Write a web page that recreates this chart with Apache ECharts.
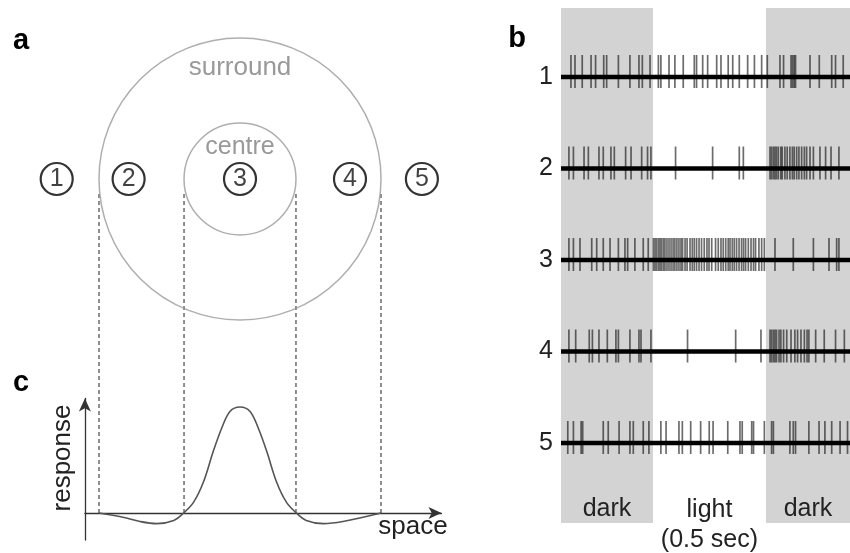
<!DOCTYPE html>
<html>
<head>
<meta charset="utf-8">
<script src="https://cdn.jsdelivr.net/npm/echarts@6/dist/echarts.min.js"></script>
<style>html,body{margin:0;padding:0;background:#fff}#c{width:850px;height:553px}</style>
</head>
<body>
<div id="c"></div>
<script>
// ---------- data ----------
// panel a: receptive field (space units, surround radius = 1)
const surroundR = 1.0;
const centreR = 0.397;
const stimPos = [-1.30, -0.79, 0, 0.78, 1.29];
const stimLabels = ['1', '2', '3', '4', '5'];
// panel c: response profile
const curveX = [-1.0, -0.83, -0.71, -0.59, -0.47, -0.40, -0.33, -0.26, -0.19, -0.13, -0.07, 0, 0.07, 0.13, 0.19, 0.26, 0.33, 0.40, 0.47, 0.59, 0.73, 1.0];
const curveY = [0, -0.04, -0.08, -0.10, -0.07, 0, 0.10, 0.29, 0.58, 0.80, 0.96, 1.0, 0.96, 0.80, 0.58, 0.29, 0.10, 0, -0.07, -0.10, -0.08, 0];
// panel b: spike times (ms)
const tEnd = 1279, lightOn = 407, lightOff = 907;
const rowLabels = ['1', '2', '3', '4', '5'];
const spikes1 = [44,62,94,133,153,189,202,254,305,345,360,394,431,442,478,504,541,590,600,627,649,689,708,740,760,789,826,856,888,913,969,985,1018,1025,1032,1038,1102,1143,1198,1215,1249];
const spikes2 = [35,55,102,121,168,187,221,236,286,310,357,383,398,507,671,789,807,925,932,940,947,954,962,973,979,991,1001,1013,1024,1032,1043,1053,1065,1077,1087,1102,1117,1146,1171,1195,1230];
const spikes3 = [35,55,84,136,158,187,217,254,283,295,327,364,386,409,416,423,431,438,445,453,460,469,478,487,496,504,513,522,531,538,549,558,571,581,590,600,611,622,634,646,655,667,684,696,708,718,729,740,748,758,767,777,788,799,808,817,829,841,852,861,876,888,900,947,1028,1117,1186,1220,1230];
const spikes4 = [35,65,125,139,168,205,243,254,305,345,354,398,560,773,885,925,932,940,947,954,965,973,985,999,1018,1035,1047,1062,1077,1089,1097,1127,1165,1215,1254];
const spikes5 = [30,55,89,96,187,209,257,305,320,364,389,442,465,522,537,574,618,656,673,738,792,802,844,852,900,932,940,1013,1028,1038,1097,1142,1168,1198,1235,1268];
const spikeRows = [spikes1, spikes2, spikes3, spikes4, spikes5];

// ---------- layout ----------
const FONT = '"Liberation Sans", Arial, sans-serif';
const PX = 141, CX = 240, CY = 179;       // panel a/c horizontal scale
const PY = 106, BY = 513;                 // panel c vertical scale / baseline
const aX = [-1.56, 1.56], aY = [-1.2, 1.2];
const dX = [-1.1, 1.429], dY = [-0.255, 1.08];
const dashTop = (BY - 192) / PY;

const hidden = {show: false};
const plainAxis = (min, max, extra) => Object.assign({
  type: 'value', min, max, axisLine: hidden, axisTick: hidden, axisLabel: hidden, splitLine: hidden
}, extra || {});

const series = [];
// rings
series.push({
  type: 'scatter', xAxisIndex: 0, yAxisIndex: 0, silent: true, z: 2,
  data: [[0, 0, surroundR], [0, 0, centreR]],
  symbol: 'circle', symbolSize: v => 2 * v[2] * PX,
  itemStyle: {color: 'rgba(0,0,0,0)', borderColor: '#9a9a9a', borderWidth: 1.5}
});
// stimulus positions
series.push({
  type: 'scatter', xAxisIndex: 0, yAxisIndex: 0, silent: true, z: 3,
  data: stimPos.map((x, i) => [x, 0, stimLabels[i]]),
  symbol: 'circle', symbolSize: 32,
  itemStyle: {color: '#fff', borderColor: '#000', borderWidth: 2.2},
  label: {show: true, position: 'inside', formatter: p => p.data[2], fontFamily: FONT, fontSize: 25, color: '#111'}
});
// response curve
series.push({
  type: 'line', xAxisIndex: 2, yAxisIndex: 2, silent: true, smooth: 0.35, symbol: 'none', z: 3,
  data: curveX.map((x, i) => [x, curveY[i]]),
  lineStyle: {color: '#555', width: 1.6}
});
// dashed projection lines
[-surroundR, -centreR, centreR, surroundR].forEach(xb => {
  series.push({
    type: 'line', xAxisIndex: 2, yAxisIndex: 2, silent: true, symbol: 'none', clip: false, z: 1,
    data: [[xb, 0], [xb, dashTop]],
    lineStyle: {color: '#444', width: 1.2, type: [4, 3]}
  });
});
// spike trains: baselines + markArea
spikeRows.forEach((row, i) => {
  const s = {
    type: 'line', xAxisIndex: 1, yAxisIndex: 1, silent: true, symbol: 'none', z: 4,
    data: [[0, i + 1], [tEnd, i + 1]],
    lineStyle: {color: '#000', width: 4.5}
  };
  if (i === 0) {
    const lab = {show: true, position: 'insideBottom', distance: 1, fontFamily: FONT, fontSize: 25, color: '#222'};
    s.markArea = {
      silent: true,
      data: [
        [{xAxis: 0, itemStyle: {color: '#d3d3d3'}, label: Object.assign({}, lab, {formatter: 'dark'})}, {xAxis: lightOn}],
        [{xAxis: lightOn, itemStyle: {color: 'rgba(0,0,0,0)'}, label: Object.assign({}, lab, {formatter: 'light\n(0.5 sec)', distance: 0, lineHeight: 30, offset: [0, 32]})}, {xAxis: lightOff}],
        [{xAxis: lightOff, itemStyle: {color: '#d3d3d3'}, label: Object.assign({}, lab, {formatter: 'dark'})}, {xAxis: tEnd}]
      ]
    };
  }
  series.push(s);
  series.push({
    type: 'scatter', xAxisIndex: 1, yAxisIndex: 1, silent: true, z: 3,
    data: row.map(t => [t, i + 1]),
    symbol: 'rect', symbolSize: [1.7, 33], symbolOffset: [0, -5.5],
    itemStyle: {color: 'rgba(0,0,0,0.72)'}
  });
});

const txt = (text, x, y, size, opts) => Object.assign({
  type: 'text', x, y, silent: true,
  style: Object.assign({text, fontFamily: FONT, fontSize: size, fill: '#222', align: 'center', verticalAlign: 'middle'}, (opts && opts.style) || {})
}, (opts && opts.el) || {});

const option = {
  animation: false,
  grid: [
    {left: CX + aX[0] * PX, width: (aX[1] - aX[0]) * PX, top: CY - aY[1] * PX, height: (aY[1] - aY[0]) * PX, outerBoundsMode: 'none'},
    {left: 561, right: 0, top: 8, bottom: 30, outerBoundsMode: 'none'},
    {left: CX + dX[0] * PX, width: (dX[1] - dX[0]) * PX, top: BY - dY[1] * PY, height: (dY[1] - dY[0]) * PY, outerBoundsMode: 'none'}
  ],
  xAxis: [
    plainAxis(aX[0], aX[1], {gridIndex: 0}),
    plainAxis(0, tEnd, {gridIndex: 1}),
    plainAxis(dX[0], dX[1], {gridIndex: 2, axisLine: {show: true, onZero: true, symbol: ['none', 'arrow'], symbolSize: [9, 13], lineStyle: {color: '#333', width: 1.3}}})
  ],
  yAxis: [
    plainAxis(aY[0], aY[1], {gridIndex: 0}),
    plainAxis(0.246, 5.874, {gridIndex: 1, inverse: true,
      axisLabel: {show: true, customValues: [1, 2, 3, 4, 5], formatter: v => rowLabels[v - 1], fontFamily: FONT, fontSize: 25, color: '#222', margin: 8}}),
    plainAxis(dY[0], dY[1], {gridIndex: 2, axisLine: {show: true, onZero: false, symbol: ['none', 'arrow'], symbolSize: [9, 13], lineStyle: {color: '#333', width: 1.3}}})
  ],
  series,
  graphic: [
    txt('a', 21, 41, 29, {style: {fontWeight: 'bold', fill: '#000'}}),
    txt('b', 517, 39, 29, {style: {fontWeight: 'bold', fill: '#000'}}),
    txt('c', 21, 383, 29, {style: {fontWeight: 'bold', fill: '#000'}}),
    txt('surround', CX, 68, 26, {style: {fill: '#999'}}),
    txt('centre', CX, 147, 25, {style: {fill: '#999'}}),
    txt('space', 413, 527, 26),
    txt('response', 63, 458, 26, {el: {rotation: Math.PI / 2}})
  ]
};
const chart = echarts.init(document.getElementById('c'), null, {renderer: 'canvas'});
chart.setOption(option);
</script>
</body>
</html>
